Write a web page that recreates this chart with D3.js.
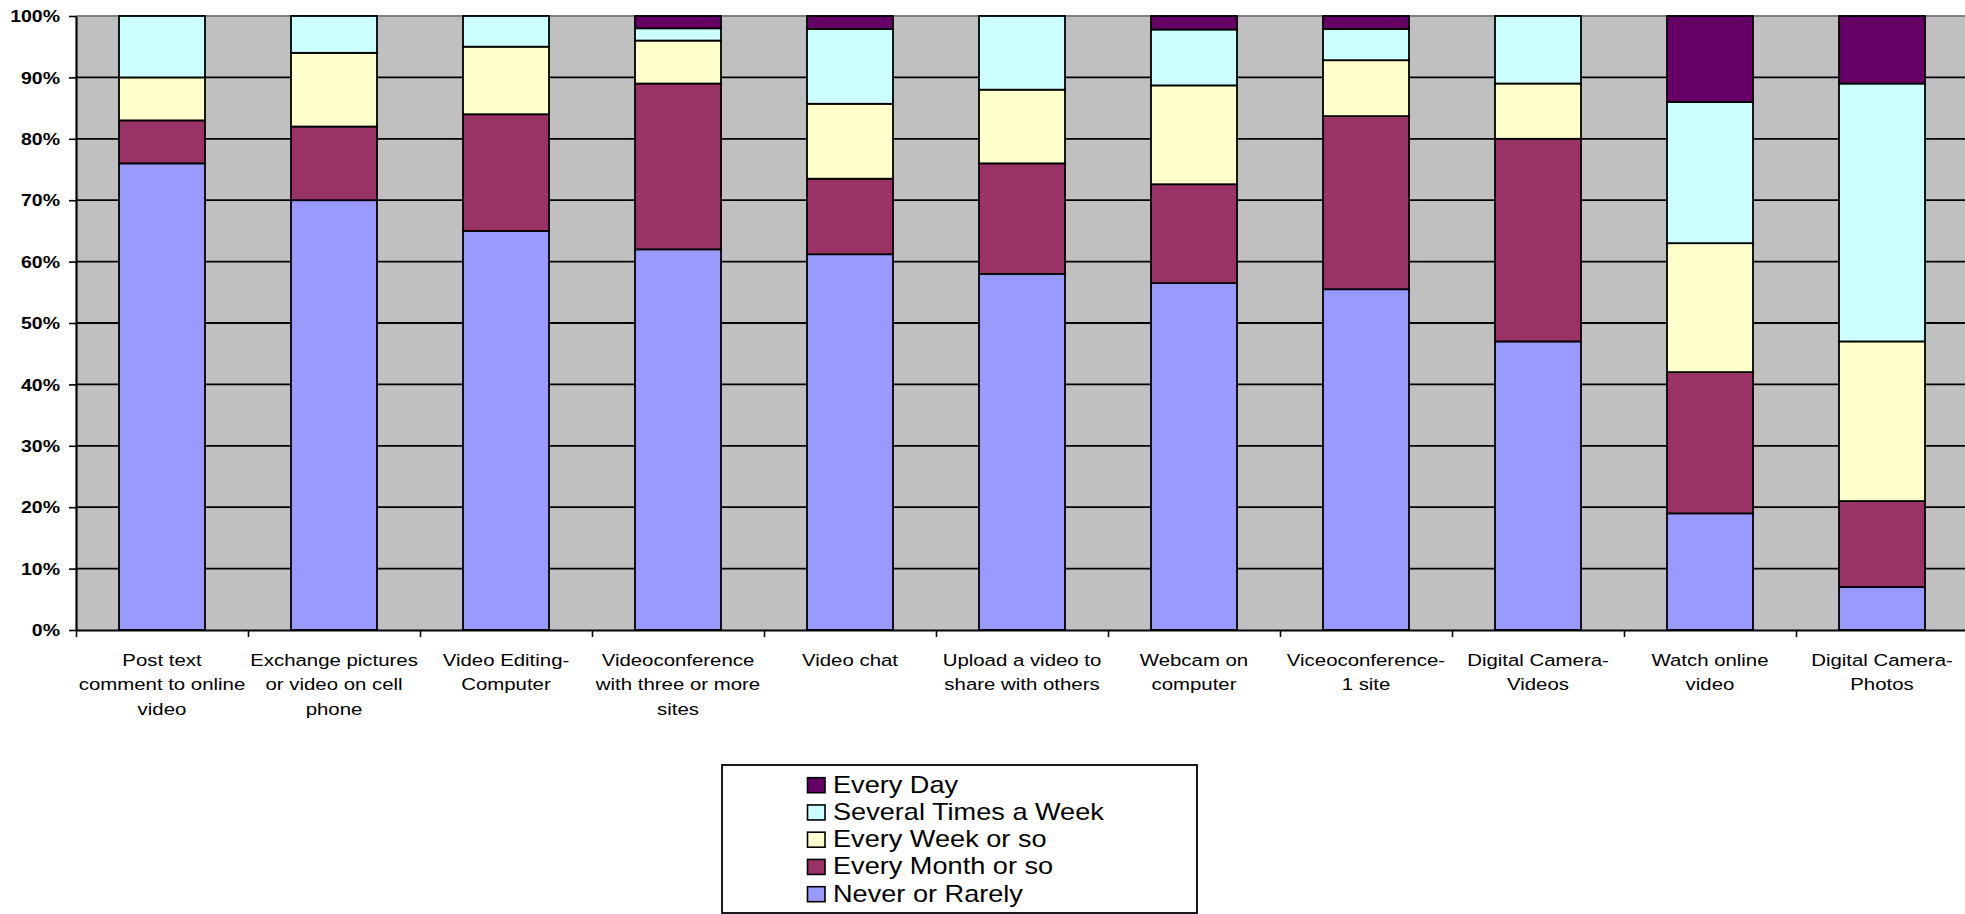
<!DOCTYPE html>
<html>
<head>
<meta charset="utf-8">
<script src="https://cdn.jsdelivr.net/npm/d3@7/dist/d3.min.js"></script>
<style>
  html, body { margin: 0; padding: 0; background: #ffffff; }
  svg { display: block; }
  text { font-family: "Liberation Sans", Arial, sans-serif; fill: #000; }
</style>
</head>
<body>
<svg id="chart" width="1965" height="914"></svg>
<script>
// Activities (x categories), each label split into its wrapped lines
const categories = [
  "Post text comment to online video",
  "Exchange pictures or video on cell phone",
  "Video Editing-Computer",
  "Videoconference with three or more sites",
  "Video chat",
  "Upload a video to share with others",
  "Webcam on computer",
  "Viceoconference-1 site",
  "Digital Camera-Videos",
  "Watch online video",
  "Digital Camera-Photos"
];
const categoryLines = [
  ["Post text", "comment to online", "video"],
  ["Exchange pictures", "or video on cell", "phone"],
  ["Video Editing-", "Computer"],
  ["Videoconference", "with three or more", "sites"],
  ["Video chat"],
  ["Upload a video to", "share with others"],
  ["Webcam on", "computer"],
  ["Viceoconference-", "1 site"],
  ["Digital Camera-", "Videos"],
  ["Watch online", "video"],
  ["Digital Camera-", "Photos"]
];

// Frequency series, stacked bottom to top (percent of respondents)
const seriesNames = ["Never or Rarely", "Every Month or so", "Every Week or so", "Several Times a Week", "Every Day"];
const neverOrRarely = [76, 70, 65, 62, 61.2, 58, 56.5, 55.5, 47, 19, 7];
const everyMonth    = [7, 12, 19, 27, 12.3, 18, 16.1, 28.2, 33, 23, 14];
const everyWeek     = [7, 12, 11, 7, 12.2, 12, 16.1, 9.1, 9, 21, 26];
const severalTimes  = [10, 6, 5, 2, 12.2, 12, 9.1, 5.1, 11, 23, 42];
const everyDay      = [0, 0, 0, 2, 2.1, 0, 2.2, 2.1, 0, 14, 11];

const seriesColors = ["#9999FF", "#993366", "#FFFFCC", "#CCFFFF", "#660066"];
const legendOrder = ["Every Day", "Several Times a Week", "Every Week or so", "Every Month or so", "Never or Rarely"];
const yTicks = [0, 10, 20, 30, 40, 50, 60, 70, 80, 90, 100];

// Build the table for d3.stack
const seriesValues = [neverOrRarely, everyMonth, everyWeek, severalTimes, everyDay];
const table = categories.map((c, i) => {
  const row = { category: c };
  seriesNames.forEach((s, k) => { row[s] = seriesValues[k][i]; });
  return row;
});
const stacked = d3.stack().keys(seriesNames)(table);

const svg = d3.select("#chart");
const plot = { left: 76, right: 1968, top: 16, bottom: 630 };
const textStretch = 1.2;

const x = d3.scaleBand()
  .domain(categories)
  .range([plot.left, plot.right])
  .paddingInner(0.5)
  .paddingOuter(0.25);
const xEdges = d3.scaleLinear().domain([0, categories.length]).range([plot.left, plot.right]);
const y = d3.scaleLinear().domain([0, 100]).range([plot.bottom, plot.top]);
const color = d3.scaleOrdinal().domain(seriesNames).range(seriesColors);

// Plot area background
svg.append("rect")
  .attr("x", plot.left).attr("y", plot.top)
  .attr("width", plot.right - plot.left).attr("height", plot.bottom - plot.top)
  .attr("fill", "#C0C0C0");

// Horizontal gridlines
svg.append("g")
  .selectAll("line")
  .data(yTicks.filter(t => t > 0))
  .join("line")
  .attr("x1", plot.left).attr("x2", plot.right)
  .attr("y1", d => y(d)).attr("y2", d => y(d))
  .attr("stroke", d => d === 100 ? "#808080" : "#000")
  .attr("stroke-width", d => d === 100 ? 2 : 1.8);

// Stacked bars
svg.append("g")
  .selectAll("g")
  .data(stacked)
  .join("g")
  .attr("fill", d => color(d.key))
  .selectAll("rect")
  .data(d => d.filter(p => p[1] - p[0] > 0))
  .join("rect")
  .attr("x", d => x(d.data.category))
  .attr("width", x.bandwidth())
  .attr("y", d => y(d[1]))
  .attr("height", d => y(d[0]) - y(d[1]))
  .attr("stroke", "#000")
  .attr("stroke-width", 1.8);

// Y axis
const yAxis = svg.append("g")
  .attr("transform", `translate(${plot.left},0)`)
  .call(d3.axisLeft(y).tickValues(yTicks).tickFormat(d => d + "%").tickSize(7).tickSizeOuter(0));
yAxis.select(".domain").attr("stroke", "#000").attr("stroke-width", 2.2);
yAxis.selectAll(".tick line").attr("stroke", "#000").attr("stroke-width", 1.6);
yAxis.selectAll(".tick text")
  .attr("font-family", "Liberation Sans, Arial, sans-serif")
  .attr("font-size", 16.8)
  .attr("font-weight", "bold")
  .attr("fill", "#000")
  .attr("x", -16 / 1.16)
  .attr("dy", "0.34em")
  .attr("transform", "scale(1.16,1)");

// X axis with ticks between categories
const xAxis = svg.append("g")
  .attr("transform", `translate(0,${plot.bottom})`)
  .call(d3.axisBottom(xEdges).tickValues(d3.range(categories.length + 1)).tickFormat("").tickSize(7).tickSizeOuter(0));
xAxis.select(".domain").attr("stroke", "#000").attr("stroke-width", 2.2);
xAxis.selectAll(".tick line").attr("stroke", "#000").attr("stroke-width", 1.6);

// Category labels
const labels = svg.append("g")
  .selectAll("g")
  .data(categories)
  .join("g")
  .attr("transform", d => `translate(${x(d) + x.bandwidth() / 2},666) scale(${textStretch},1)`);
labels.each(function(d, i) {
  d3.select(this).selectAll("text")
    .data(categoryLines[i])
    .join("text")
    .attr("x", 0)
    .attr("y", (l, k) => k * 24.3)
    .attr("text-anchor", "middle")
    .attr("font-size", 17)
    .text(l => l);
});

// Legend
const legend = svg.append("g");
legend.append("rect")
  .attr("x", 722).attr("y", 765)
  .attr("width", 475).attr("height", 148)
  .attr("fill", "#fff")
  .attr("stroke", "#000")
  .attr("stroke-width", 1.8);
const rows = legend.selectAll("g.row")
  .data(legendOrder)
  .join("g")
  .attr("class", "row")
  .attr("transform", (d, i) => `translate(0,${792.7 + i * 27.25})`);
rows.append("rect")
  .attr("x", 807.5).attr("y", -15)
  .attr("width", 17.5).attr("height", 15)
  .attr("fill", d => color(d))
  .attr("stroke", "#000")
  .attr("stroke-width", 1.6);
rows.append("text")
  .attr("transform", `translate(833,0) scale(1.18,1)`)
  .attr("font-size", 23)
  .text(d => d);
</script>
</body>
</html>
